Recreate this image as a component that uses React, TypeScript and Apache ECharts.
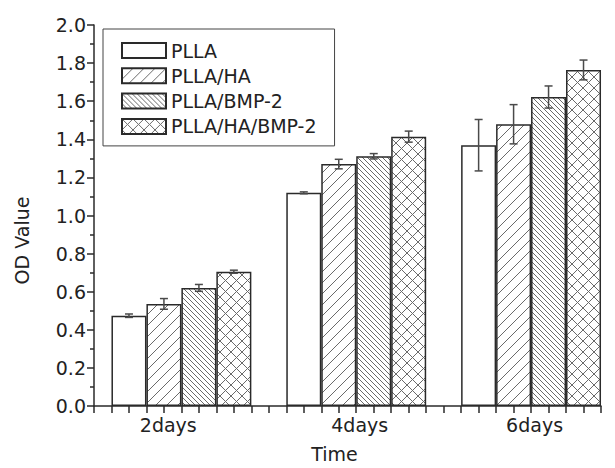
import React, { useEffect, useRef } from "react";
import * as echarts from "echarts";

const categories = ["2days", "4days", "6days"];
const seriesNames = ["PLLA", "PLLA/HA", "PLLA/BMP-2", "PLLA/HA/BMP-2"];
const pllaValues = [0.474, 1.119, 1.369];
const pllaHaValues = [0.536, 1.27, 1.479];
const pllaBmpValues = [0.62, 1.311, 1.622];
const pllaHaBmpValues = [0.705, 1.414, 1.764];
const pllaErrors = [0.009, 0.005, 0.135];
const pllaHaErrors = [0.028, 0.025, 0.103];
const pllaBmpErrors = [0.018, 0.014, 0.058];
const pllaHaBmpErrors = [0.008, 0.029, 0.052];

const allValues = [pllaValues, pllaHaValues, pllaBmpValues, pllaHaBmpValues];
const allErrors = [pllaErrors, pllaHaErrors, pllaBmpErrors, pllaHaBmpErrors];

// layout (not data): bar offsets within a group and label anchor positions
const barOffsets = [-0.3, -0.1, 0.1, 0.3];
const labelAnchors = [0.925, 2.02, 3.02];
const FONT = "DejaVu Sans";

function makePattern(kind: "none" | "fwd" | "back" | "cross") {
  const s = kind === "back" ? 5 : 11;
  const c = document.createElement("canvas");
  c.width = s;
  c.height = s;
  const ctx = c.getContext("2d")!;
  ctx.fillStyle = "#ffffff";
  ctx.fillRect(0, 0, s, s);
  ctx.strokeStyle = "#6a6a6a";
  ctx.lineWidth = 1;
  const fwd = () => {
    for (let k = -1; k <= 1; k++) {
      ctx.beginPath();
      ctx.moveTo(-2, s + 2 + k * s);
      ctx.lineTo(s + 2, -2 + k * s);
      ctx.stroke();
    }
  };
  const back = () => {
    for (let k = -1; k <= 1; k++) {
      ctx.beginPath();
      ctx.moveTo(-2, -2 + k * s);
      ctx.lineTo(s + 2, s + 2 + k * s);
      ctx.stroke();
    }
  };
  if (kind === "fwd") fwd();
  if (kind === "back") back();
  if (kind === "cross") {
    fwd();
    back();
  }
  if (kind === "none") return "#ffffff";
  return { image: c, repeat: "repeat", imageWidth: s, imageHeight: s } as any;
}

export default function App() {
  const ref = useRef<HTMLDivElement>(null);
  useEffect(() => {
    if (!ref.current) return;
    const chart = echarts.init(ref.current, undefined, { renderer: "svg" });
    const kinds: ("none" | "fwd" | "back" | "cross")[] = ["none", "fwd", "back", "cross"];

    const barSeries = seriesNames.map((name, si) => ({
      name,
      type: "bar",
      barWidth: 35,
      barGap: "-100%",
      itemStyle: {
        color: makePattern(kinds[si]),
        borderColor: "#2a2a2a",
        borderWidth: 1.5,
      },
      data: allValues[si].map((v, ci) => [ci + 1 + barOffsets[si], v]),
      z: 2,
    }));

    const errData: number[][] = [];
    seriesNames.forEach((_, si) => {
      allValues[si].forEach((v, ci) => {
        const e = allErrors[si][ci];
        errData.push([ci + 1 + barOffsets[si], v - e, v + e]);
      });
    });

    const errorSeries = {
      type: "custom",
      name: "error",
      z: 5,
      renderItem: (params: any, api: any) => {
        const x = api.value(0);
        const lo = api.coord([x, api.value(1)]);
        const hi = api.coord([x, api.value(2)]);
        const w = 4;
        const st = { stroke: "#4a4a4a", lineWidth: 1.5 };
        return {
          type: "group",
          children: [
            { type: "line", shape: { x1: lo[0], y1: lo[1], x2: hi[0], y2: hi[1] }, style: st },
            { type: "line", shape: { x1: lo[0] - w, y1: lo[1], x2: lo[0] + w, y2: lo[1] }, style: st },
            { type: "line", shape: { x1: hi[0] - w, y1: hi[1], x2: hi[0] + w, y2: hi[1] }, style: st },
          ],
        };
      },
      data: errData,
    };

    chart.setOption({
      animation: false,
      backgroundColor: "#ffffff",
      textStyle: { fontFamily: FONT },
      grid: { left: 94, right: 14, top: 25, bottom: 55 },
      legend: {
        data: seriesNames,
        orient: "vertical",
        left: 103,
        top: 29,
        padding: [12, 18, 10, 18],
        itemGap: 6.3,
        itemWidth: 44,
        itemHeight: 15,
        icon: "rect",
        borderColor: "#444",
        borderWidth: 1,
        backgroundColor: "#ffffff",
        selectedMode: false,
        textStyle: { fontFamily: FONT, fontSize: 19, color: "#222" },
      },
      xAxis: {
        type: "value",
        min: 0.5,
        max: 3.4,
        interval: 0.1,
        name: "Time",
        nameLocation: "middle",
        nameGap: 38,
        nameTextStyle: { fontFamily: FONT, fontSize: 19, color: "#222", padding: [0, 26, 0, 0] },
        axisLine: { show: true, onZero: false, lineStyle: { color: "#2a2a2a", width: 1.5 } },
        axisTick: { show: true, inside: false, length: 7, lineStyle: { color: "#2a2a2a", width: 1.5 } },
        splitLine: { show: false },
        axisLabel: {
          customValues: labelAnchors,
          margin: 9,
          fontFamily: FONT,
          fontSize: 19,
          color: "#222",
          formatter: (v: number) => categories[Math.round(v) - 1] ?? "",
        },
      },
      yAxis: {
        type: "value",
        min: 0,
        max: 2.0,
        interval: 0.2,
        name: "OD Value",
        nameLocation: "middle",
        nameGap: 63,
        nameTextStyle: { fontFamily: FONT, fontSize: 19, color: "#222", padding: [0, 50, 0, 0] },
        axisLine: { show: true, lineStyle: { color: "#2a2a2a", width: 1.5 } },
        axisTick: { show: true, inside: false, length: 7, lineStyle: { color: "#2a2a2a", width: 1.5 } },
        minorTick: { show: true, splitNumber: 2, length: 4, lineStyle: { color: "#2a2a2a", width: 1.5 } },
        splitLine: { show: false },
        axisLabel: {
          margin: 8,
          fontFamily: FONT,
          fontSize: 19,
          color: "#222",
          formatter: (v: number) => v.toFixed(1),
        },
      },
      series: [...barSeries, errorSeries],
    } as any);
    return () => chart.dispose();
  }, []);
  return (
    <div
      ref={ref}
      style={{ position: "fixed", left: 0, top: 0, width: 615, height: 468, background: "#fff" }}
    />
  );
}
